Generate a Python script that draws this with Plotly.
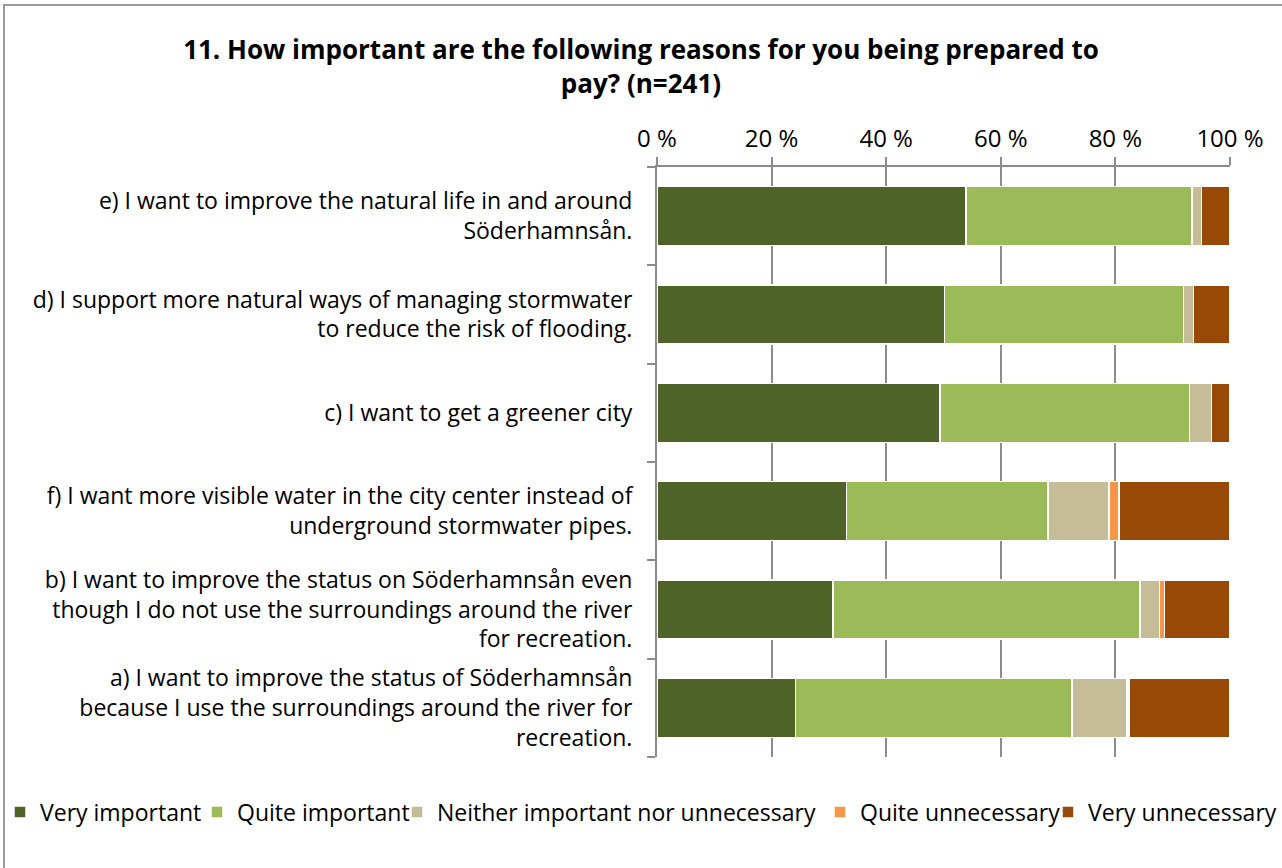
import plotly.graph_objects as go

# Survey reasons, listed bottom-to-top as drawn on the y-axis
categories = [
    "a) I want to improve the status of Söderhamnsån<br>because I use the surroundings around the river for<br>recreation.",
    "b) I want to improve the status on Söderhamnsån even<br>though I do not use the surroundings around the river<br>for recreation.",
    "f) I want more visible water in the city center instead of<br>underground stormwater pipes.",
    "c) I want to get a greener city",
    "d) I support more natural ways of managing stormwater<br>to reduce the risk of flooding.",
    "e) I want to improve the natural life in and around<br>Söderhamnsån.",
]

# Share of answers (%) per response level, same order as categories
very_important = [24.2, 30.7, 33.1, 49.4, 50.2, 53.9]
quite_important = [48.2, 53.6, 35.1, 43.5, 41.7, 39.5]
neither = [9.6, 3.4, 10.7, 3.9, 1.7, 1.6]
quite_unnecessary = [0.4, 0.9, 1.7, 0.0, 0.0, 0.0]
very_unnecessary = [17.6, 11.4, 19.4, 3.2, 6.4, 5.0]

series_names = [
    "Very important",
    "Quite important",
    "Neither important nor unnecessary",
    "Quite unnecessary",
    "Very unnecessary",
]
series_values = [very_important, quite_important, neither, quite_unnecessary, very_unnecessary]
series_colors = ["#4F6228", "#9BBB59", "#C4BD97", "#F79646", "#984807"]

tick_vals = [0, 20, 40, 60, 80, 100]
tick_text = ["0 %", "20 %", "40 %", "60 %", "80 %", "100 %"]

FONT = "Open Sans"
FS = 23

W, H = 1282, 868
L, R, T, B = 657, 52, 167, 111

# One legend box per entry so the whole key sits on a single row
legend_ids = ["legend", "legend2", "legend3", "legend4", "legend5"]
legend_text_left = [40, 237, 437, 860, 1088]

fig = go.Figure()
for name, vals, color, lg in zip(series_names, series_values, series_colors, legend_ids):
    fig.add_trace(go.Bar(
        y=categories,
        x=vals,
        name=name,
        orientation="h",
        legend=lg,
        marker=dict(color=color, line=dict(color="white", width=1.5)),
        hovertemplate="%{x:.1f} %<extra>" + name + "</extra>",
    ))

legend_layouts = {
    lg: dict(
        orientation="h",
        xref="container",
        x=(px - 40) / W,
        xanchor="left",
        yref="container",
        y=(H - 812) / H,
        yanchor="middle",
        font=dict(family=FONT, size=FS),
        bgcolor="rgba(0,0,0,0)",
    )
    for lg, px in zip(legend_ids, legend_text_left)
}

fig.update_layout(
    width=W,
    height=H,
    barmode="stack",
    bargap=0.4,
    plot_bgcolor="white",
    paper_bgcolor="white",
    margin=dict(l=L, r=R, t=T, b=B, pad=0),
    font=dict(family=FONT, size=FS, color="#000000"),
    title=dict(
        text="<b>11. How important are the following reasons for you being prepared to<br>pay? (n=241)</b>",
        x=0.5,
        xref="container",
        y=1 - 59 / H,
        yref="container",
        yanchor="middle",
        xanchor="center",
        font=dict(family=FONT, size=26, color="#000000"),
    ),
    xaxis=dict(
        side="top",
        range=[0, 100],
        tickvals=tick_vals,
        ticktext=tick_text,
        showgrid=True,
        gridcolor="#8C8C8C",
        gridwidth=2,
        zeroline=False,
        showline=True,
        linecolor="#8C8C8C",
        linewidth=2,
        ticks="outside",
        ticklen=8,
        tickwidth=2,
        tickcolor="#8C8C8C",
        tickfont=dict(family=FONT, size=24),
        automargin=False,
        fixedrange=True,
    ),
    yaxis=dict(
        type="category",
        categoryorder="array",
        categoryarray=categories,
        showline=True,
        linecolor="#8C8C8C",
        linewidth=2,
        ticks="outside",
        tickson="boundaries",
        ticklen=8,
        tickwidth=2,
        tickcolor="#8C8C8C",
        ticklabelstandoff=18,
        tickfont=dict(family=FONT, size=FS),
        showgrid=False,
        automargin=False,
        fixedrange=True,
    ),
    showlegend=True,
    **legend_layouts,
)

# Light grey frame around the whole chart
pw, ph = W - L - R, H - T - B
fig.add_shape(
    type="rect",
    xref="paper", yref="paper",
    x0=(4 - L) / pw, x1=(W + 10 - L) / pw,
    y0=-(H + 10 - T - ph) / ph, y1=1 + (T - 5) / ph,
    line=dict(color="#9A9A9A", width=2),
    fillcolor="rgba(0,0,0,0)",
    layer="below",
)

fig.write_html("out.html")
